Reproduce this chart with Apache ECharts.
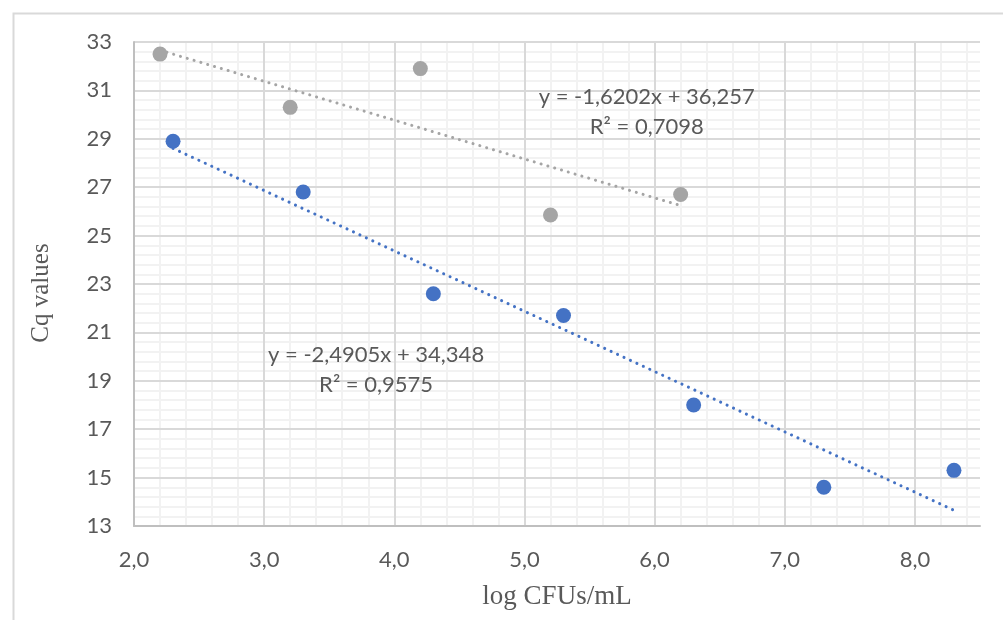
<!DOCTYPE html>
<html><head><meta charset="utf-8">
<script src="https://cdn.jsdelivr.net/npm/echarts@6/dist/echarts.min.js"></script>
<style>html,body{margin:0;padding:0;background:#fff}#c{width:1003px;height:620px}</style>
</head><body><div id="c"></div>
<script>
const grayX = [2.2, 3.2, 4.2, 5.2, 6.2];
const grayY = [32.5, 30.3, 31.9, 25.85, 26.7];
const blueX = [2.3, 3.3, 4.3, 5.3, 6.3, 7.3, 8.3];
const blueY = [28.9, 26.8, 22.6, 21.7, 18.0, 14.6, 15.3];
const grayEq = ['y = -1,6202x + 36,257', 'R² = 0,7098'];
const blueEq = ['y = -2,4905x + 34,348', 'R² = 0,9575'];
const xTitle = 'log CFUs/mL';
const yTitle = 'Cq values';

function fit(xs, ys) {
  const n = xs.length;
  const mx = xs.reduce((a, b) => a + b, 0) / n;
  const my = ys.reduce((a, b) => a + b, 0) / n;
  let sxy = 0, sxx = 0;
  for (let i = 0; i < n; i++) { sxy += (xs[i] - mx) * (ys[i] - my); sxx += (xs[i] - mx) ** 2; }
  const b = sxy / sxx, a = my - b * mx;
  const x0 = Math.min(...xs), x1 = Math.max(...xs);
  return [[x0, a + b * x0], [x1, a + b * x1]];
}
const pts = (xs, ys) => xs.map((x, i) => [x, ys[i]]);

const GRAY = '#a5a5a5', BLUE = '#4472c4', TXT = '#595959';
const FONT = 'Lato, "Open Sans", sans-serif';
const chart = echarts.init(document.getElementById('c'), null, { renderer: 'canvas' });
const tickLabel = { color: TXT, fontFamily: FONT, fontSize: 22 };
chart.setOption({
  animation: false,
  grid: { left: 134, right: 23, top: 42, bottom: 94, containLabel: false },
  xAxis: [
    {
      type: 'value', min: 2, max: 8.5, interval: 1, z: 2,
      name: xTitle, nameLocation: 'middle', nameGap: 57,
      nameTextStyle: { fontFamily: '"Liberation Serif", serif', fontSize: 27, color: TXT },
      axisLine: { show: true, lineStyle: { color: '#bfbfbf', width: 2 } },
      axisTick: { show: false },
      axisLabel: Object.assign({ margin: 23, showMaxLabel: false, formatter: v => v.toFixed(1).replace('.', ',') }, tickLabel),
      splitLine: { show: true, showMaxLine: false, lineStyle: { color: '#d9d9d9', width: 2 } }
    },
    {
      type: 'value', min: 2, max: 8.5, interval: 0.2, z: 0, position: 'bottom',
      axisLine: { show: false }, axisTick: { show: false }, axisLabel: { show: false },
      splitLine: { show: true, showMinLine: false, showMaxLine: false, lineStyle: { color: '#f2f2f2', width: 2 } }
    }
  ],
  yAxis: [
    {
      type: 'value', min: 13, max: 33, interval: 2, z: 2,
      name: yTitle, nameLocation: 'middle', nameGap: 80,
      nameTextStyle: { fontFamily: '"Liberation Serif", serif', fontSize: 25, color: TXT, padding: [0, 18, 0, 0] },
      axisLine: { show: true, lineStyle: { color: '#bfbfbf', width: 2 } },
      axisTick: { show: false },
      axisLabel: Object.assign({ margin: 22 }, tickLabel),
      splitLine: { show: true, showMinLine: false, lineStyle: { color: '#d9d9d9', width: 2 } }
    },
    {
      type: 'value', min: 13, max: 33, interval: 0.4, z: 0,
      axisLine: { show: false }, axisTick: { show: false }, axisLabel: { show: false },
      splitLine: { show: true, showMinLine: false, showMaxLine: false, lineStyle: { color: '#f2f2f2', width: 2 } }
    }
  ],
  series: [
    { type: 'line', data: fit(grayX, grayY), showSymbol: false, z: 3,
      lineStyle: { color: GRAY, width: 3, type: [0.1, 7], cap: 'round' } },
    { type: 'line', data: fit(blueX, blueY), showSymbol: false, z: 3,
      lineStyle: { color: BLUE, width: 3, type: [0.1, 7], cap: 'round' } },
    { type: 'scatter', data: pts(grayX, grayY), symbolSize: 15, z: 4, itemStyle: { color: GRAY, opacity: 1 } },
    { type: 'scatter', data: pts(blueX, blueY), symbolSize: 15, z: 4, itemStyle: { color: BLUE, opacity: 1 } }
  ]
});

function place(lines, xv, yv) {
  const p = chart.convertToPixel({ xAxisIndex: 0, yAxisIndex: 0 }, [xv, yv]);
  return lines.map((t, i) => ({
    type: 'text', x: p[0], y: p[1] + i * 30, z: 10,
    style: { text: t, fill: TXT, font: '22px ' + FONT, align: 'center', verticalAlign: 'middle' }
  }));
}
chart.setOption({
  graphic: [
    { type: 'rect', left: 11, top: 11, z: -10, silent: true,
      shape: { width: 1010, height: 630 }, style: { fill: 'none', stroke: '#d9d9d9', lineWidth: 2 } },
    ...place(grayEq, 5.94, 30.73),
    ...place(blueEq, 3.86, 20.07)
  ]
});
</script></body></html>
